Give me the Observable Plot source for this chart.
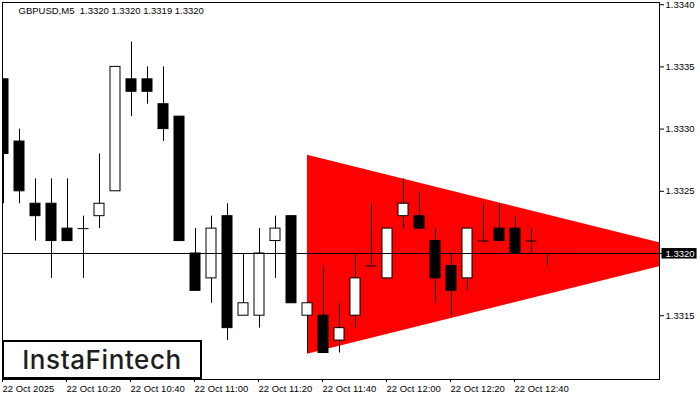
<!DOCTYPE html>
<html>
<head>
<meta charset="utf-8">
<script src="https://cdn.jsdelivr.net/npm/d3@7"></script>
<script src="https://cdn.jsdelivr.net/npm/@observablehq/plot@0.6"></script>
<style>
  html, body { margin: 0; padding: 0; background: #fff; }
  #wrap { position: relative; width: 700px; height: 400px; }
  #logo {
    position: absolute; left: 2px; top: 340px; width: 196px; height: 35px;
    border: 2px solid #000; background: #fff;
    display: flex; align-items: center; justify-content: center;
    font-family: Inter, "Open Sans", sans-serif; font-weight: 500; font-size: 26px;
    letter-spacing: 0.6px; color: #1e1e1e; line-height: 1;
  }
</style>
</head>
<body>
<div id="wrap"></div>
<script>
const symbol = "GBPUSD";
const timeframe = "M5";
const day = "2025-10-22";

const times = ["10:00","10:05","10:10","10:15","10:20","10:25","10:30","10:35","10:40","10:45",
               "10:50","10:55","11:00","11:05","11:10","11:15","11:20","11:25","11:30","11:35",
               "11:40","11:45","11:50","11:55","12:00","12:05","12:10","12:15","12:20","12:25",
               "12:30","12:35","12:40","12:45","12:50"];
const open  = [1.3334,1.3329,1.3324,1.3324,1.3322,1.3322,1.3323,1.3325,1.3334,1.3334,
               1.3332,1.3331,1.3320,1.3318,1.3323,1.3315,1.3315,1.3321,1.3323,1.3315,
               1.3315,1.3313,1.3315,1.3319,1.3318,1.3323,1.3323,1.3321,1.3319,1.3318,
               1.3321,1.3322,1.3322,1.3321,1.3320];
const high  = [1.3334,1.3330,1.3326,1.3326,1.3326,1.3323,1.3328,1.3335,1.3337,1.3335,
               1.3335,1.3331,1.3322,1.3323,1.3324,1.3320,1.3322,1.3323,1.3323,1.3316,
               1.3319,1.3316,1.3320,1.3324,1.3322,1.3326,1.3325,1.3322,1.3320,1.3322,
               1.3324,1.3324,1.3323,1.3322,1.3320];
const low   = [1.3324,1.3324,1.3321,1.3318,1.3321,1.3318,1.3322,1.3325,1.3331,1.3332,
               1.3329,1.3321,1.3317,1.3316,1.3313,1.3315,1.3314,1.3318,1.3316,1.3312,
               1.3312,1.3312,1.3314,1.3319,1.3318,1.3322,1.3322,1.3316,1.3315,1.3317,
               1.3321,1.3321,1.3320,1.3320,1.3319];
const close = [1.3328,1.3325,1.3323,1.3321,1.3321,1.3322,1.3324,1.3335,1.3333,1.3333,
               1.3330,1.3321,1.3317,1.3322,1.3314,1.3316,1.3320,1.3322,1.3316,1.3316,
               1.3312,1.3314,1.3318,1.3319,1.3322,1.3324,1.3322,1.3318,1.3317,1.3322,
               1.3321,1.3321,1.3320,1.3321,1.3320];

const bidPrice = 1.3320;

// Triangle pattern: left edge at 11:35, apex to the right
const triangleTimes = ["11:35", "13:40"];
const triangleUpper = [1.33279, 1.33199];
const triangleLower = [1.33119, 1.33199];

const yTicks = [1.3315, 1.3320, 1.3325, 1.3330, 1.3335, 1.3340];
const xTickTimes = ["10:00","10:20","10:40","11:00","11:20","11:40","12:00","12:20","12:40"];
const xTickLabels = ["22 Oct 2025","22 Oct 10:20","22 Oct 10:40","22 Oct 11:00","22 Oct 11:20",
                     "22 Oct 11:40","22 Oct 12:00","22 Oct 12:20","22 Oct 12:40"];
const logoText = "InstaFintech";

// ---- build tables ----
const toDate = t => new Date(`${day}T${t}:00Z`);
const candles = times.map((t, i) => ({date: toDate(t), open: open[i], high: high[i], low: low[i], close: close[i]}));
const bulls = candles.filter(d => d.close > d.open);
const bears = candles.filter(d => d.close < d.open);
const dojis = candles.filter(d => d.close === d.open);
const triangle = triangleTimes.map((t, i) => ({date: toDate(t), upper: triangleUpper[i], lower: triangleLower[i]}));
const xTickDates = xTickTimes.map(toDate);
const labelMap = new Map(xTickDates.map((d, i) => [+d, xTickLabels[i]]));
const fmt = v => v.toFixed(4);
const last = candles[candles.length - 1];
const title = `${symbol},${timeframe}\u00a0 ${fmt(last.open)} ${fmt(last.high)} ${fmt(last.low)} ${fmt(last.close)}`;

// pixel geometry: 16px per 5-minute bar
const pxPerMin = 3.2;
const bodyHalf = 5 / pxPerMin * 60000;
const dojiHalf = 5.5 / pxPerMin * 60000;
const t0 = toDate(times[0]), t1 = toDate(times[times.length - 1]);
const spanMin = (t1 - t0) / 60000;

const plot = Plot.plot({
  width: 700,
  height: 400,
  marginLeft: 2,
  marginRight: 41,
  marginTop: 2,
  marginBottom: 21,
  style: {fontFamily: "'Liberation Sans', Arial, sans-serif", fontSize: "9.5px", color: "#000", background: "#fff"},
  x: {type: "utc", domain: [t0, t1], range: [3, 3 + spanMin * pxPerMin]},
  y: {domain: [1.3315, 1.3340], range: [315.2, 4.2]},
  marks: [
    Plot.area(triangle, {x1: "date", y1: "upper", y2: "lower", fill: "#ff0000", clip: true}),
    Plot.ruleX(candles, {x: "date", y1: "low", y2: "high", stroke: "#000", strokeWidth: 1, clip: true}),
    Plot.rect(bears, {x1: d => new Date(+d.date - bodyHalf), x2: d => new Date(+d.date + bodyHalf),
                      y1: "open", y2: "close", fill: "#000", stroke: "#000", strokeWidth: 1, clip: true}),
    Plot.rect(bulls, {x1: d => new Date(+d.date - bodyHalf), x2: d => new Date(+d.date + bodyHalf),
                      y1: "open", y2: "close", fill: "#fff", stroke: "#000", strokeWidth: 1, clip: true}),
    Plot.ruleY(dojis, {y: "open", x1: d => new Date(+d.date - dojiHalf), x2: d => new Date(+d.date + dojiHalf),
                       stroke: "#000", strokeWidth: 1, clip: true}),
    Plot.ruleY([bidPrice], {stroke: "#000", strokeWidth: 1}),
    Plot.frame({stroke: "#000"}),
    Plot.text([title], {frameAnchor: "top-left", dx: 16, dy: 5, lineAnchor: "top", textAnchor: "start",
                        fill: "#000", fontSize: 9.5}),
    Plot.axisX({ticks: xTickDates, tickFormat: d => labelMap.get(+d), tickSize: 3, tickPadding: 3,
                textAnchor: "start", dx: -1, label: null, stroke: "#000", fill: "#000"}),
    Plot.axisY({anchor: "right", ticks: yTicks, tickFormat: fmt, tickSize: 4, tickPadding: 2,
                label: null, stroke: "#000", fill: "#000"})
  ]
});

const wrap = document.getElementById("wrap");
wrap.appendChild(plot);
const logo = document.createElement("div");
logo.id = "logo";
logo.textContent = logoText;
wrap.appendChild(logo);

// current price label: white text on black box
const bidText = fmt(bidPrice);
d3.select(plot).selectAll("text").each(function() {
  const g = this.parentNode;
  const aria = (g && g.getAttribute && g.getAttribute("aria-label")) || "";
  if (this.textContent === bidText && aria.indexOf("y-axis") >= 0) {
    const bb = this.getBBox();
    const r = document.createElementNS("http://www.w3.org/2000/svg", "rect");
    r.setAttribute("x", bb.x - 4);
    r.setAttribute("y", bb.y + 0.5);
    r.setAttribute("width", bb.width + 6);
    r.setAttribute("height", bb.height - 0.5);
    r.setAttribute("fill", "#000");
    r.setAttribute("stroke", "none");
    const tr = this.getAttribute("transform");
    if (tr) r.setAttribute("transform", tr);
    g.insertBefore(r, this);
    this.setAttribute("fill", "#fff");
  }
});
</script>
</body>
</html>
